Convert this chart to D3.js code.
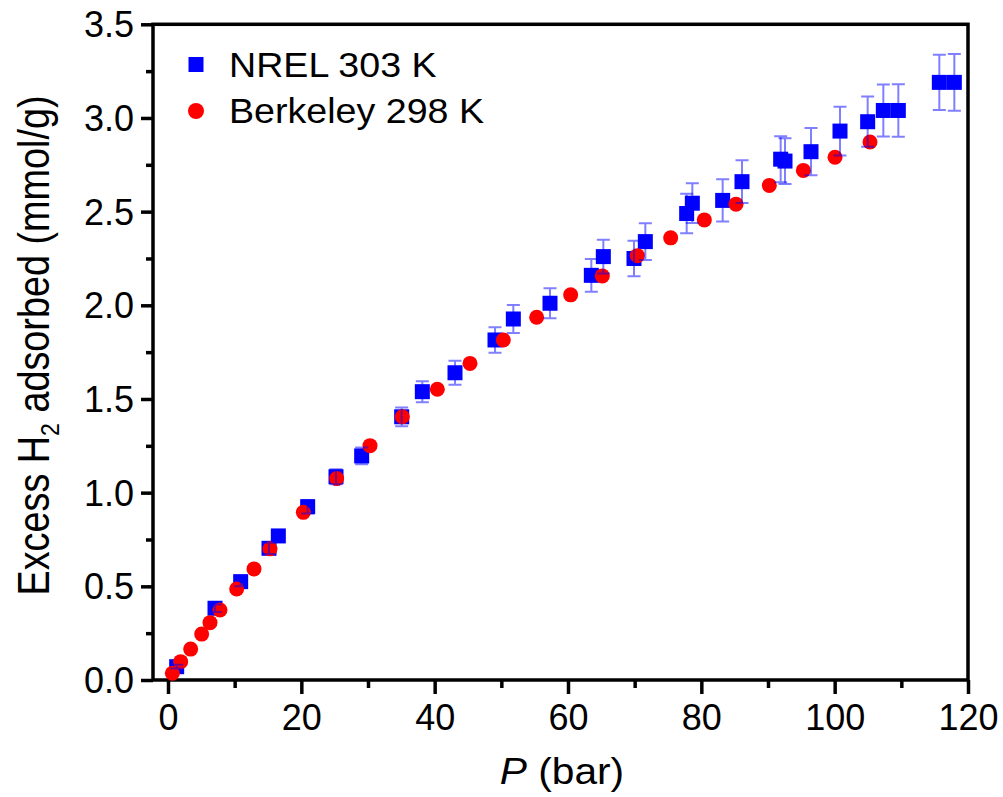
<!DOCTYPE html>
<html>
<head>
<meta charset="utf-8">
<script src="https://cdn.jsdelivr.net/npm/d3@7/dist/d3.min.js"></script>
<style>
  html, body { margin: 0; padding: 0; background: #fff; }
  svg { display: block; }
  text { font-family: "Liberation Sans", Arial, Helvetica, sans-serif; fill: #000; }
</style>
</head>
<body>
<svg id="chart" width="1003" height="797"></svg>
<script>
// ---- Data ----
const nrelP   = [1.3, 7.05, 10.9, 15.15, 16.55, 20.95, 25.2, 29.05, 35.05, 38.15, 43.05, 49.05, 51.8, 57.3, 63.5, 65.3, 69.9, 71.6, 77.8, 78.65, 83.2, 86.1, 91.9, 92.55, 96.45, 100.8, 104.95, 107.3, 109.55, 115.7, 117.95];
const nrelQ   = [0.071, 0.383, 0.525, 0.703, 0.769, 0.925, 1.085, 1.196, 1.405, 1.539, 1.64, 1.815, 1.927, 2.011, 2.16, 2.26, 2.25, 2.34, 2.49, 2.545, 2.56, 2.66, 2.78, 2.77, 2.82, 2.93, 2.98, 3.04, 3.04, 3.19, 3.19];
const nrelErr = [0.01, 0.02, 0.025, 0.03, 0.032, 0.036, 0.04, 0.045, 0.05, 0.056, 0.064, 0.068, 0.075, 0.08, 0.087, 0.09, 0.095, 0.098, 0.105, 0.106, 0.113, 0.114, 0.123, 0.122, 0.126, 0.13, 0.134, 0.139, 0.14, 0.148, 0.152];

const berkP = [0.65, 1.9, 3.4, 5.05, 6.3, 7.8, 10.3, 12.9, 15.3, 20.3, 25.3, 30.3, 35.15, 40.4, 45.3, 50.3, 55.3, 60.4, 65.15, 70.4, 75.4, 80.45, 85.2, 90.2, 95.3, 100.05, 105.3];
const berkQ = [0.036, 0.098, 0.165, 0.245, 0.306, 0.374, 0.486, 0.593, 0.70, 0.895, 1.075, 1.251, 1.405, 1.552, 1.69, 1.815, 1.936, 2.056, 2.157, 2.265, 2.36, 2.456, 2.54, 2.64, 2.72, 2.79, 2.872];

const xMajorTicks = [0, 20, 40, 60, 80, 100, 120];
const xMinorTicks = [10, 30, 50, 70, 90, 110];
const yMajorTicks = [0.0, 0.5, 1.0, 1.5, 2.0, 2.5, 3.0, 3.5];
const yMinorTicks = [0.25, 0.75, 1.25, 1.75, 2.25, 2.75, 3.25];

const seriesNames = ["NREL 303 K", "Berkeley 298 K"];
const seriesColors = ["#0000ff", "#ff0000"];

// ---- Layout ----
const svg = d3.select("#chart");
const mL = 153, mR = 968, mT = 24.3, mB = 680;

const x = d3.scaleLinear().domain([-2.25, 120]).range([mL, mR]);
const y = d3.scaleLinear().domain([0, 3.5]).range([mB, mT]);

const axisW = 3.5;

// Axes
const gx = svg.append("g").attr("transform", `translate(0,${mB})`)
  .call(d3.axisBottom(x).tickValues(xMajorTicks).tickSize(14).tickPadding(10).tickFormat(d3.format("d")).tickSizeOuter(0));
const gxm = svg.append("g").attr("transform", `translate(0,${mB})`)
  .call(d3.axisBottom(x).tickValues(xMinorTicks).tickSize(8).tickFormat("").tickSizeOuter(0));
const gy = svg.append("g").attr("transform", `translate(${mL},0)`)
  .call(d3.axisLeft(y).tickValues(yMajorTicks).tickSize(12).tickPadding(7).tickFormat(d3.format(".1f")).tickSizeOuter(0));
const gym = svg.append("g").attr("transform", `translate(${mL},0)`)
  .call(d3.axisLeft(y).tickValues(yMinorTicks).tickSize(7).tickFormat("").tickSizeOuter(0));

[gx, gxm, gy, gym].forEach(g => {
  g.select(".domain").remove();
  g.selectAll(".tick line").attr("stroke", "#000").attr("stroke-width", axisW);
  g.selectAll(".tick text").attr("font-size", 36).attr("font-family", '"Liberation Sans", Arial, sans-serif').attr("fill", "#000");
});
gx.selectAll(".tick text").attr("dy", "0.71em");
gy.selectAll(".tick text").attr("dy", "0.35em");

// Frame
svg.append("rect")
  .attr("x", mL).attr("y", mT)
  .attr("width", mR - mL).attr("height", mB - mT)
  .attr("fill", "none").attr("stroke", "#000").attr("stroke-width", axisW);

// Data
const nrel = nrelP.map((p, i) => ({p, q: nrelQ[i], e: nrelErr[i]}));
const berk = berkP.map((p, i) => ({p, q: berkQ[i]}));
const sq = 15, rC = 7.5, cap = 6.5;

svg.append("g").selectAll("rect").data(nrel).join("rect")
  .attr("x", d => x(d.p) - sq / 2).attr("y", d => y(d.q) - sq / 2)
  .attr("width", sq).attr("height", sq).attr("fill", seriesColors[0]);

svg.append("g").selectAll("circle").data(berk).join("circle")
  .attr("cx", d => x(d.p)).attr("cy", d => y(d.q)).attr("r", rC)
  .attr("fill", seriesColors[1]);

const eb = svg.append("g").attr("stroke", "rgba(0,0,255,0.5)").attr("stroke-width", 2).attr("fill", "none");
eb.selectAll("path").data(nrel).join("path")
  .attr("d", d => {
    const cx = x(d.p), y1 = y(d.q + d.e), y0 = y(d.q - d.e);
    return `M${cx},${y1}V${y0}M${cx - cap},${y1}H${cx + cap}M${cx - cap},${y0}H${cx + cap}`;
  });

// Legend
const lg = svg.append("g");
lg.append("rect").attr("x", 196 - sq / 2).attr("y", 64.5 - sq / 2).attr("width", sq).attr("height", sq).attr("fill", seriesColors[0]);
lg.append("circle").attr("cx", 196).attr("cy", 111).attr("r", 8).attr("fill", seriesColors[1]);
lg.append("text").attr("transform", "translate(229,77) scale(1.045,1)").attr("font-size", 36).text(seriesNames[0]);
lg.append("text").attr("transform", "translate(229,123) scale(1.045,1)").attr("font-size", 36).text(seriesNames[1]);

// Axis titles
const xt = svg.append("text").attr("transform", "translate(562,784) scale(1.1,1)")
  .attr("text-anchor", "middle").attr("font-size", 37);
xt.append("tspan").attr("font-style", "italic").text("P");
xt.append("tspan").text(" (bar)");

const yt = svg.append("text")
  .attr("transform", "translate(49,345.5) scale(1.15,1) rotate(-90)")
  .attr("text-anchor", "middle").attr("font-size", 37.8);
yt.append("tspan").text("Excess H");
yt.append("tspan").attr("font-size", 23).attr("dy", 9).text("2");
yt.append("tspan").attr("dy", -9).text(" adsorbed (mmol/g)");
</script>
</body>
</html>
